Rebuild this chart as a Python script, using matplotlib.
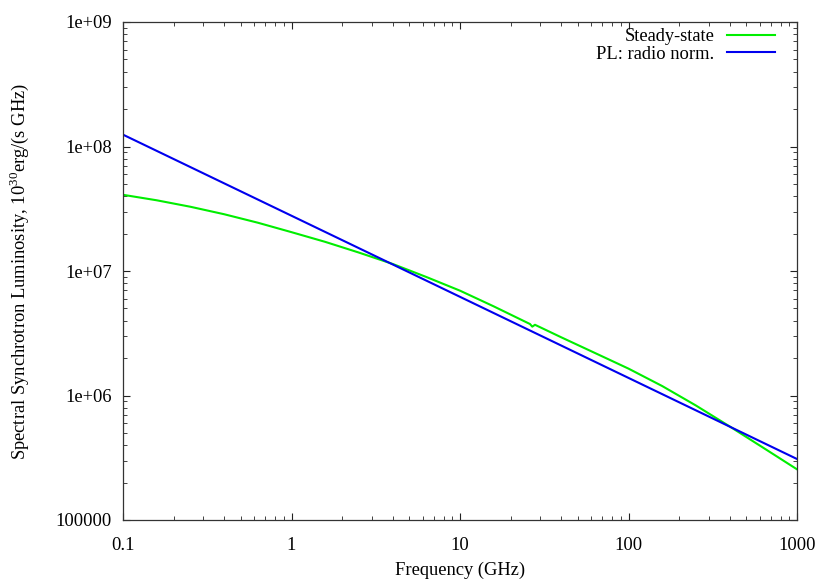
import matplotlib
matplotlib.use("Agg")
import matplotlib.pyplot as plt
from matplotlib.ticker import FixedLocator, FixedFormatter, LogLocator, NullFormatter

# Data (frequency in GHz, luminosity in 1e30 erg/(s GHz))
steady_freq = [0.1, 0.1585, 0.2512, 0.3981, 0.631, 1.0, 1.585, 2.512, 3.981, 6.31,
               10.0, 15.85, 26.03, 26.85, 27.86, 39.8, 63.1, 100.0, 158.5, 251.0,
               398.0, 631.0, 1000.0]
steady_lum = [4.093e7, 3.698e7, 3.281e7, 2.858e7, 2.443e7, 2.051e7, 1.714e7, 1.406e7,
              1.140e7, 8.954e6, 6.950e6, 5.200e6, 3.750e6, 3.573e6, 3.698e6, 2.938e6,
              2.198e6, 1.644e6, 1.191e6, 8.318e5, 5.649e5, 3.802e5, 2.553e5]

pl_freq = [0.1, 1000.0]
pl_lum = [1.245e8, 3.09e5]

series_labels = ["Steady-state", "PL: radio norm."]

xticks = [0.1, 1, 10, 100, 1000]
xtick_labels = ["0.1", "1", "10", "100", "1000"]
yticks = [1e5, 1e6, 1e7, 1e8, 1e9]
ytick_labels = ["100000", "1e+06", "1e+07", "1e+08", "1e+09"]

plt.rcParams['font.family'] = ['Liberation Serif', 'DejaVu Serif']
plt.rcParams['mathtext.fontset'] = 'custom'
plt.rcParams['mathtext.rm'] = 'Liberation Serif'

FS = 13.3

fig = plt.figure(figsize=(8.30, 5.81), dpi=100)
ax = fig.add_axes([123 / 830, 61 / 581, 674 / 830, 498 / 581])

ax.plot(steady_freq, steady_lum, color='#00ee00', lw=1.5, label=series_labels[0])
ax.plot(pl_freq, pl_lum, color='#0000ee', lw=1.5, label=series_labels[1])

ax.set_xscale('log')
ax.set_yscale('log')
ax.set_xlim(0.1, 1000)
ax.set_ylim(1e5, 1e9)

ax.xaxis.set_major_locator(FixedLocator(xticks))
ax.xaxis.set_major_formatter(FixedFormatter(xtick_labels))
ax.yaxis.set_major_locator(FixedLocator(yticks))
ax.yaxis.set_major_formatter(FixedFormatter(ytick_labels))
ax.xaxis.set_minor_locator(LogLocator(base=10, subs=range(2, 10), numticks=20))
ax.yaxis.set_minor_locator(LogLocator(base=10, subs=range(2, 10), numticks=20))
ax.xaxis.set_minor_formatter(NullFormatter())
ax.yaxis.set_minor_formatter(NullFormatter())

ax.tick_params(which='both', direction='in', top=True, right=True,
               labelsize=FS, colors='#222222', labelcolor='black')
ax.tick_params(which='major', length=5, width=0.8)
ax.tick_params(which='minor', length=3, width=0.6)
ax.tick_params(axis='x', which='major', pad=12)
ax.tick_params(axis='y', which='major', pad=8)
for s in ax.spines.values():
    s.set_color('#333333')
    s.set_linewidth(0.9)

ax.set_xlabel("Frequency (GHz)", fontsize=FS, labelpad=6)
ax.set_ylabel(r"Spectral Synchrotron Luminosity, 10$^{30}$erg/(s GHz)", fontsize=FS, labelpad=18)

leg = ax.legend(loc='upper right', bbox_to_anchor=(0.967, 0.988), frameon=False,
                markerfirst=False, fontsize=FS, handlelength=2.6, handletextpad=0.65,
                labelspacing=0.05, borderpad=0, borderaxespad=0)

fig.savefig("out.png", dpi=100)
